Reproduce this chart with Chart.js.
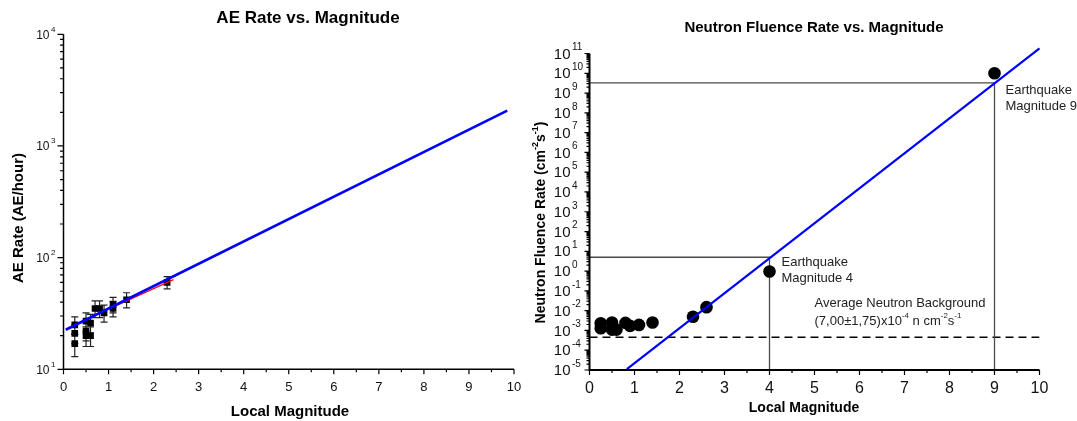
<!DOCTYPE html>
<html>
<head>
<meta charset="utf-8">
<script src="https://cdn.jsdelivr.net/npm/chart.js@4.4.1/dist/chart.umd.min.js"></script>
<style>
  html, body { margin: 0; padding: 0; background: #fff; }
  #wrap { position: relative; width: 1077px; height: 421px; }
  canvas { position: absolute; left: 0; top: 0; }
</style>
</head>
<body>
<div id="wrap">
  <canvas id="ae" width="1077" height="421"></canvas>
  <canvas id="nf" width="1077" height="421"></canvas>
</div>
<script>
// shared x ticks
const magTicks = [0, 1, 2, 3, 4, 5, 6, 7, 8, 9, 10];

// left: AE rate
const aeMag  = [0.25, 0.25, 0.25, 0.5, 0.5, 0.5, 0.6, 0.6, 0.7, 0.8, 0.9, 1.1, 1.1, 1.4, 2.3];
const aeRate = [17, 21, 25, 27, 22, 20, 26, 20, 35, 35, 32, 35, 38, 42, 60];
const aeErr  = [4, 4, 4.5, 5, 4, 4, 5, 4, 6, 6, 5.5, 5.5, 6, 6.5, 7.5];
const aeFitX = [0.05, 9.85];
const aeFitY = [22.6, 2070];
const aeRedX = [0.25, 2.44];
const aeRedY = [25.2, 63.5];
const aeExp  = [1, 2, 3, 4];

// right: neutron fluence rate
const nMag  = [0.25, 0.25, 0.5, 0.5, 0.6, 0.8, 0.9, 1.1, 1.4, 2.3, 2.6, 4, 9];
const nRate = [2.3e-3, 1.3e-3, 2.5e-3, 1.1e-3, 1.1e-3, 2.4e-3, 1.7e-3, 1.9e-3, 2.5e-3, 4.9e-3, 1.5e-2, 0.95, 1e10];
const nFitX = [0.83, 10];
const nFitY = [1.1e-5, 1.8e11];
const guideMag  = [4, 9];
const guideRate = [5, 3.3e9];
const bgRate = 4.5e-4;
const nExp = [-5, -4, -3, -2, -1, 0, 1, 2, 3, 4, 5, 6, 7, 8, 9, 10, 11];
const nMin = 1e-5;

const FONT = '"Liberation Sans", Arial, Helvetica, sans-serif';
const INK = '#111';

function font(size, bold) {
  return (bold ? 'bold ' : '') + size + 'px ' + FONT;
}

// text with superscript pieces, y is the middle line
function rich(ctx, segs, x, y, size, bold, align) {
  const sup = Math.round(size * 0.64);
  let w = 0;
  const widths = segs.map(s => {
    ctx.font = font(s.sup ? sup : size, bold);
    const sw = ctx.measureText(s.t).width;
    w += sw;
    return sw;
  });
  let cx = align === 'center' ? x - w / 2 : x;
  ctx.textAlign = 'left';
  ctx.textBaseline = 'middle';
  segs.forEach((s, i) => {
    ctx.font = font(s.sup ? sup : size, bold);
    ctx.fillText(s.t, cx, s.sup ? y - size * 0.42 : y);
    cx += widths[i];
  });
}

function axesPlugin(o) {
  return {
    id: 'axes_' + o.key,
    beforeDatasetsDraw(chart) {
      if (o.under) o.under(chart);
    },
    afterDraw(chart) {
      const { ctx, chartArea: a, scales: { x, y } } = chart;
      ctx.save();
      ctx.strokeStyle = '#000';
      ctx.fillStyle = INK;
      ctx.lineWidth = o.axisW;
      ctx.beginPath();
      ctx.moveTo(a.left, a.top);
      ctx.lineTo(a.left, a.bottom);
      ctx.lineTo(a.right, a.bottom);
      ctx.stroke();

      ctx.lineWidth = o.tickW;
      ctx.beginPath();
      magTicks.forEach((m, i) => {
        const px = x.getPixelForValue(m);
        ctx.moveTo(px, a.bottom);
        ctx.lineTo(px, a.bottom + o.xMaj);
        if (i < magTicks.length - 1) {
          const pm = x.getPixelForValue(m + 0.5);
          ctx.moveTo(pm, a.bottom);
          ctx.lineTo(pm, a.bottom + o.xMin);
        }
      });
      o.yExp.forEach((e, i) => {
        const py = y.getPixelForValue(Math.pow(10, e));
        ctx.moveTo(a.left, py);
        ctx.lineTo(a.left - o.yMaj, py);
        if (i < o.yExp.length - 1) {
          for (let k = 2; k < 10; k++) {
            const pk = y.getPixelForValue(k * Math.pow(10, e));
            ctx.moveTo(a.left, pk);
            ctx.lineTo(a.left - o.yMin, pk);
          }
        }
      });
      ctx.stroke();

      // tick labels
      ctx.font = font(o.xLabelSize);
      ctx.textAlign = 'center';
      ctx.textBaseline = 'middle';
      magTicks.forEach(m => ctx.fillText(String(m), x.getPixelForValue(m), a.bottom + o.xLabelGap));
      o.yExp.forEach(e => {
        const py = y.getPixelForValue(Math.pow(10, e));
        ctx.font = font(o.yLabelSize);
        ctx.textAlign = 'right';
        ctx.textBaseline = 'middle';
        ctx.fillText('10', a.left - o.yLabelGap, py + 1);
        ctx.font = font(o.supSize);
        ctx.textAlign = 'left';
        ctx.fillText(String(e), a.left - o.yLabelGap + 1.5, py - o.supRise);
      });

      // titles
      ctx.fillStyle = '#000';
      ctx.font = font(o.titleSize, true);
      ctx.textAlign = 'center';
      ctx.fillText(o.title, o.titleX, o.titleY);
      ctx.font = font(o.xTitleSize, true);
      ctx.fillText('Local Magnitude', o.xTitleX, o.xTitleY);
      ctx.save();
      ctx.translate(o.yTitleX, o.yTitleY);
      ctx.rotate(-Math.PI / 2);
      rich(ctx, o.yTitle, 0, 0, o.yTitleSize, true, 'center');
      ctx.restore();

      if (o.over) o.over(chart);
      ctx.restore();
    }
  };
}

const base = {
  responsive: false,
  animation: false,
  devicePixelRatio: 1,
  events: [],
  plugins: { legend: { display: false }, tooltip: { enabled: false }, title: { display: false } },
};

// ---------- left chart ----------
new Chart(document.getElementById('ae'), {
  type: 'scatter',
  data: {
    datasets: [
      {
        data: aeFitX.map((v, i) => ({ x: v, y: aeFitY[i] })),
        showLine: true, borderColor: '#0000ff', borderWidth: 2.6, pointRadius: 0,
      },
      {
        data: aeRedX.map((v, i) => ({ x: v, y: aeRedY[i] })),
        showLine: true, borderColor: '#ff0000', borderWidth: 1.2, pointRadius: 0,
      },
      {
        data: aeMag.map((v, i) => ({ x: v, y: aeRate[i] })),
        pointStyle: 'rect', pointRadius: 4.7, backgroundColor: '#000', borderWidth: 0,
      },
    ],
  },
  options: {
    ...base,
    layout: { padding: { left: 63.5, right: 563, top: 34.3, bottom: 51.7 } },
    scales: {
      x: { type: 'linear', min: 0, max: 10, display: false },
      y: { type: 'logarithmic', min: 10, max: 10000, display: false },
    },
  },
  plugins: [axesPlugin({
    key: 'ae', axisW: 1.5, tickW: 1.2, xMaj: 5, xMin: 3, yMaj: 6, yMin: 3.5,
    yExp: aeExp, xLabelSize: 13, xLabelGap: 18, yLabelSize: 12, yLabelGap: 14,
    supSize: 8, supRise: 5,
    title: 'AE Rate vs. Magnitude', titleSize: 17, titleX: 308, titleY: 18,
    xTitleSize: 15, xTitleX: 290, xTitleY: 412,
    yTitle: [{ t: 'AE Rate (AE/hour)' }], yTitleSize: 15, yTitleX: 19, yTitleY: 218,
    under(chart) {
      const { ctx, scales: { x, y } } = chart;
      ctx.save();
      ctx.strokeStyle = '#222';
      ctx.lineWidth = 1.2;
      ctx.beginPath();
      aeMag.forEach((m, i) => {
        const px = x.getPixelForValue(m);
        const t = y.getPixelForValue(aeRate[i] + aeErr[i]);
        const b = y.getPixelForValue(aeRate[i] - aeErr[i]);
        ctx.moveTo(px, t); ctx.lineTo(px, b);
        ctx.moveTo(px - 3.5, t); ctx.lineTo(px + 3.5, t);
        ctx.moveTo(px - 3.5, b); ctx.lineTo(px + 3.5, b);
      });
      ctx.stroke();
      ctx.restore();
    },
  })],
});

// ---------- right chart ----------
new Chart(document.getElementById('nf'), {
  type: 'scatter',
  data: {
    datasets: [
      {
        data: nFitX.map((v, i) => ({ x: v, y: nFitY[i] })),
        showLine: true, borderColor: '#0000ff', borderWidth: 2.2, pointRadius: 0, clip: false,
      },
      {
        data: nMag.map((v, i) => ({ x: v, y: nRate[i] })),
        pointStyle: 'circle', pointRadius: 6.3, backgroundColor: '#000', borderWidth: 0,
      },
      ...guideMag.map((m, i) => ({
        data: [{ x: 0, y: guideRate[i] }, { x: m, y: guideRate[i] }, { x: m, y: nMin }],
        showLine: true, borderColor: '#4a4a4a', borderWidth: 1.3, pointRadius: 0,
      })),
      {
        data: [{ x: 0, y: bgRate }, { x: 10, y: bgRate }],
        showLine: true, borderColor: '#000', borderWidth: 1.4, borderDash: [8, 5], pointRadius: 0,
      },
    ],
  },
  options: {
    ...base,
    layout: { padding: { left: 589.5, right: 37.5, top: 53.5, bottom: 51 } },
    scales: {
      x: { type: 'linear', min: 0, max: 10, display: false },
      y: { type: 'logarithmic', min: nMin, max: 1e11, display: false },
    },
  },
  plugins: [axesPlugin({
    key: 'nf', axisW: 2, tickW: 1.2, xMaj: 5, xMin: 3, yMaj: 5, yMin: 3,
    yExp: nExp, xLabelSize: 16, xLabelGap: 19, yLabelSize: 15, yLabelGap: 19,
    supSize: 10, supRise: 6,
    title: 'Neutron Fluence Rate vs. Magnitude', titleSize: 15, titleX: 814, titleY: 27.5,
    xTitleSize: 14, xTitleX: 804, xTitleY: 408,
    yTitle: [{ t: 'Neutron Fluence Rate (cm' }, { t: '-2', sup: true }, { t: 's' }, { t: '-1', sup: true }, { t: ')' }],
    yTitleSize: 14, yTitleX: 541, yTitleY: 222.5,
    over(chart) {
      const { ctx, scales: { x, y } } = chart;
      ctx.fillStyle = '#222';
      ctx.font = font(13);
      ctx.textAlign = 'left';
      ctx.textBaseline = 'middle';
      const x9 = x.getPixelForValue(guideMag[1]) + 11;
      const y9 = y.getPixelForValue(guideRate[1]);
      ctx.fillText('Earthquake', x9, y9 + 7.5);
      ctx.fillText('Magnitude 9', x9, y9 + 24);
      const x4 = x.getPixelForValue(guideMag[0]) + 12;
      const y4 = y.getPixelForValue(guideRate[0]);
      ctx.fillText('Earthquake', x4, y4 + 5);
      ctx.fillText('Magnitude 4', x4, y4 + 21);
      const xb = x.getPixelForValue(5.0);
      const yb = y.getPixelForValue(bgRate);
      ctx.fillText('Average Neutron Background', xb, yb - 34);
      rich(ctx, [
        { t: '(7,00\u00b11,75)x10' }, { t: '-4', sup: true }, { t: ' n cm' },
        { t: '-2', sup: true }, { t: 's' }, { t: '-1', sup: true },
      ], xb, yb - 16, 13, false, 'left');
    },
  })],
});
</script>
</body>
</html>
